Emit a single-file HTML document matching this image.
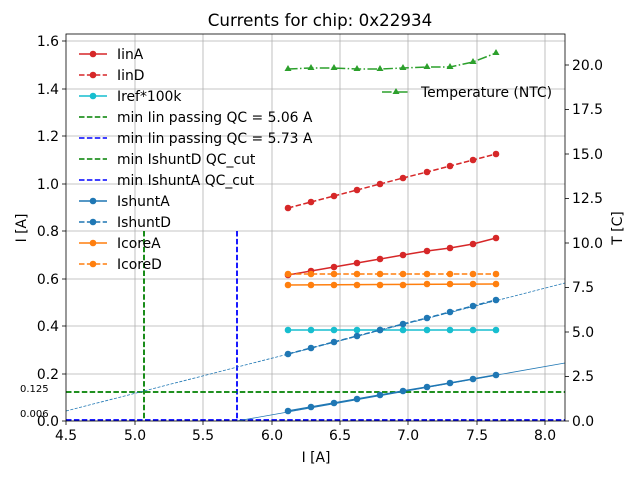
<!DOCTYPE html>
<html><head><meta charset="utf-8"><style>body{margin:0;background:#fff}svg{display:block;font-family:"DejaVu Sans","Liberation Sans",sans-serif}</style></head><body>
<svg width="640" height="480" viewBox="0 0 640 480" xmlns="http://www.w3.org/2000/svg">
<rect width="640" height="480" fill="#fff"/>
<g stroke="#b0b0b0" stroke-width="0.8">
<line x1="135" y1="34" x2="135" y2="421"/><line x1="203" y1="34" x2="203" y2="421"/><line x1="272" y1="34" x2="272" y2="421"/><line x1="340" y1="34" x2="340" y2="421"/><line x1="408" y1="34" x2="408" y2="421"/><line x1="477" y1="34" x2="477" y2="421"/><line x1="545" y1="34" x2="545" y2="421"/>
<line x1="66" y1="374" x2="565" y2="374"/><line x1="66" y1="326" x2="565" y2="326"/><line x1="66" y1="279" x2="565" y2="279"/><line x1="66" y1="231" x2="565" y2="231"/><line x1="66" y1="184" x2="565" y2="184"/><line x1="66" y1="136" x2="565" y2="136"/><line x1="66" y1="89" x2="565" y2="89"/><line x1="66" y1="41" x2="565" y2="41"/>
</g>
<g fill="none" stroke-width="1.8" stroke-dasharray="5.5,2.4">
<line x1="144" y1="231" x2="144" y2="421" stroke="#008000"/>
<line x1="237" y1="231" x2="237" y2="421" stroke="#0000ff"/>
<line x1="66" y1="392" x2="565" y2="392" stroke="#008000"/>
<line x1="66" y1="420" x2="565" y2="420" stroke="#0000ff"/>
</g>
<line x1="66" y1="411" x2="565" y2="283" stroke="#1f77b4" stroke-width="0.8" stroke-dasharray="3,1.5"/>
<line x1="237" y1="421" x2="565" y2="363" stroke="#1f77b4" stroke-width="0.8"/>
<g fill="none" stroke-width="1.5">
<polyline stroke="#d62728" points="288,275 311,271 334,267 357,263 380,259 403,255 427,251 450,248 473,244 496,238"/>
<polyline stroke="#d62728" stroke-dasharray="5.5,2.4" points="288,208 311,202 334,196 357,190 380,184 403,178 427,172 450,166 473,160 496,154"/>
<polyline stroke="#17becf" points="288,330 496,330"/>
<polyline stroke="#1f77b4" points="288,411 311,407 334,403 357,399 380,395 403,391 427,387 450,383 473,379 496,375"/>
<polyline stroke="#1f77b4" stroke-dasharray="5.5,2.4" points="288,354 311,348 334,342 357,336 380,330 403,324 427,318 450,312 473,306 496,300"/>
<polyline stroke="#ff7f0e" points="288,285 496,284"/>
<polyline stroke="#ff7f0e" stroke-dasharray="5.5,2.4" points="288,274 496,274"/>
<polyline stroke="#2ca02c" stroke-dasharray="9.6,2.4,1.5,2.4" points="288,69 311,68 334,68 357,69 380,69 403,68 427,67 450,67 473,62 496,53"/>
</g>
<g fill="#d62728"><circle cx="288" cy="275" r="3.3"/><circle cx="311" cy="271" r="3.3"/><circle cx="334" cy="267" r="3.3"/><circle cx="357" cy="263" r="3.3"/><circle cx="380" cy="259" r="3.3"/><circle cx="403" cy="255" r="3.3"/><circle cx="427" cy="251" r="3.3"/><circle cx="450" cy="248" r="3.3"/><circle cx="473" cy="244" r="3.3"/><circle cx="496" cy="238" r="3.3"/>
<circle cx="288" cy="208" r="3.3"/><circle cx="311" cy="202" r="3.3"/><circle cx="334" cy="196" r="3.3"/><circle cx="357" cy="190" r="3.3"/><circle cx="380" cy="184" r="3.3"/><circle cx="403" cy="178" r="3.3"/><circle cx="427" cy="172" r="3.3"/><circle cx="450" cy="166" r="3.3"/><circle cx="473" cy="160" r="3.3"/><circle cx="496" cy="154" r="3.3"/></g>
<g fill="#17becf"><circle cx="288" cy="330" r="3.3"/><circle cx="311" cy="330" r="3.3"/><circle cx="334" cy="330" r="3.3"/><circle cx="357" cy="330" r="3.3"/><circle cx="380" cy="330" r="3.3"/><circle cx="403" cy="330" r="3.3"/><circle cx="427" cy="330" r="3.3"/><circle cx="450" cy="330" r="3.3"/><circle cx="473" cy="330" r="3.3"/><circle cx="496" cy="330" r="3.3"/></g>
<g fill="#1f77b4"><circle cx="288" cy="411" r="3.3"/><circle cx="311" cy="407" r="3.3"/><circle cx="334" cy="403" r="3.3"/><circle cx="357" cy="399" r="3.3"/><circle cx="380" cy="395" r="3.3"/><circle cx="403" cy="391" r="3.3"/><circle cx="427" cy="387" r="3.3"/><circle cx="450" cy="383" r="3.3"/><circle cx="473" cy="379" r="3.3"/><circle cx="496" cy="375" r="3.3"/>
<circle cx="288" cy="354" r="3.3"/><circle cx="311" cy="348" r="3.3"/><circle cx="334" cy="342" r="3.3"/><circle cx="357" cy="336" r="3.3"/><circle cx="380" cy="330" r="3.3"/><circle cx="403" cy="324" r="3.3"/><circle cx="427" cy="318" r="3.3"/><circle cx="450" cy="312" r="3.3"/><circle cx="473" cy="306" r="3.3"/><circle cx="496" cy="300" r="3.3"/></g>
<g fill="#ff7f0e"><circle cx="288" cy="285" r="3.3"/><circle cx="311" cy="285" r="3.3"/><circle cx="334" cy="285" r="3.3"/><circle cx="357" cy="285" r="3.3"/><circle cx="380" cy="285" r="3.3"/><circle cx="403" cy="285" r="3.3"/><circle cx="427" cy="284" r="3.3"/><circle cx="450" cy="284" r="3.3"/><circle cx="473" cy="284" r="3.3"/><circle cx="496" cy="284" r="3.3"/>
<circle cx="288" cy="274" r="3.3"/><circle cx="311" cy="274" r="3.3"/><circle cx="334" cy="274" r="3.3"/><circle cx="357" cy="274" r="3.3"/><circle cx="380" cy="274" r="3.3"/><circle cx="403" cy="274" r="3.3"/><circle cx="427" cy="274" r="3.3"/><circle cx="450" cy="274" r="3.3"/><circle cx="473" cy="274" r="3.3"/><circle cx="496" cy="274" r="3.3"/></g>
<g fill="#2ca02c"><path d="M288,65l3.5,6h-7z"/><path d="M311,64l3.5,6h-7z"/><path d="M334,64l3.5,6h-7z"/><path d="M357,65l3.5,6h-7z"/><path d="M380,65l3.5,6h-7z"/><path d="M403,64l3.5,6h-7z"/><path d="M427,63l3.5,6h-7z"/><path d="M450,63l3.5,6h-7z"/><path d="M473,58l3.5,6h-7z"/><path d="M496,49l3.5,6h-7z"/></g>
<rect x="66" y="34" width="499" height="387" fill="none" stroke="#000" stroke-width="0.8"/>
<g stroke="#000" stroke-width="0.8">
<line x1="66" y1="421" x2="66" y2="425"/><line x1="135" y1="421" x2="135" y2="425"/><line x1="203" y1="421" x2="203" y2="425"/><line x1="272" y1="421" x2="272" y2="425"/><line x1="340" y1="421" x2="340" y2="425"/><line x1="408" y1="421" x2="408" y2="425"/><line x1="477" y1="421" x2="477" y2="425"/><line x1="545" y1="421" x2="545" y2="425"/>
<line x1="62" y1="421" x2="66" y2="421"/><line x1="62" y1="374" x2="66" y2="374"/><line x1="62" y1="326" x2="66" y2="326"/><line x1="62" y1="279" x2="66" y2="279"/><line x1="62" y1="231" x2="66" y2="231"/><line x1="62" y1="184" x2="66" y2="184"/><line x1="62" y1="136" x2="66" y2="136"/><line x1="62" y1="89" x2="66" y2="89"/><line x1="62" y1="41" x2="66" y2="41"/>
<line x1="565" y1="421" x2="569" y2="421"/><line x1="565" y1="376.5" x2="569" y2="376.5"/><line x1="565" y1="332" x2="569" y2="332"/><line x1="565" y1="287.5" x2="569" y2="287.5"/><line x1="565" y1="243" x2="569" y2="243"/><line x1="565" y1="198.5" x2="569" y2="198.5"/><line x1="565" y1="154" x2="569" y2="154"/><line x1="565" y1="109.5" x2="569" y2="109.5"/><line x1="565" y1="65" x2="569" y2="65"/>
</g>
<g font-size="13.9" fill="#000">
<g text-anchor="middle"><text x="66" y="440">4.5</text><text x="135" y="440">5.0</text><text x="203" y="440">5.5</text><text x="272" y="440">6.0</text><text x="340" y="440">6.5</text><text x="408" y="440">7.0</text><text x="477" y="440">7.5</text><text x="545" y="440">8.0</text>
<text x="316" y="462">I [A]</text><text x="320" y="26" font-size="16.7">Currents for chip: 0x22934</text></g>
<g text-anchor="end"><text x="59" y="426">0.0</text><text x="59" y="379">0.2</text><text x="59" y="331">0.4</text><text x="59" y="284">0.6</text><text x="59" y="236">0.8</text><text x="59" y="189">1.0</text><text x="59" y="141">1.2</text><text x="59" y="94">1.4</text><text x="59" y="46">1.6</text></g>
<g><text x="572" y="426">0.0</text><text x="572" y="381">2.5</text><text x="572" y="337">5.0</text><text x="572" y="292">7.5</text><text x="572" y="248">10.0</text><text x="572" y="203">12.5</text><text x="572" y="159">15.0</text><text x="572" y="114">17.5</text><text x="572" y="70">20.0</text></g>
<text transform="translate(26,228) rotate(-90)" text-anchor="middle">I [A]</text>
<text transform="translate(622,228) rotate(-90)" text-anchor="middle">T [C]</text>
<text x="20" y="392" font-size="10">0.125</text><text x="20" y="417" font-size="10">0.006</text>
</g>
<g font-size="13.9" fill="#000">
<g stroke-width="1.5" fill="none">
<line x1="79" y1="54" x2="107" y2="54" stroke="#d62728"/>
<line x1="79" y1="75" x2="107" y2="75" stroke="#d62728" stroke-dasharray="5.5,2.4"/>
<line x1="79" y1="96" x2="107" y2="96" stroke="#17becf"/>
<line x1="79" y1="117" x2="107" y2="117" stroke="#008000" stroke-dasharray="5.5,2.4"/>
<line x1="79" y1="138" x2="107" y2="138" stroke="#0000ff" stroke-dasharray="5.5,2.4"/>
<line x1="79" y1="159" x2="107" y2="159" stroke="#008000" stroke-dasharray="5.5,2.4"/>
<line x1="79" y1="180" x2="107" y2="180" stroke="#0000ff" stroke-dasharray="5.5,2.4"/>
<line x1="79" y1="201" x2="107" y2="201" stroke="#1f77b4"/>
<line x1="79" y1="222" x2="107" y2="222" stroke="#1f77b4" stroke-dasharray="5.5,2.4"/>
<line x1="79" y1="243" x2="107" y2="243" stroke="#ff7f0e"/>
<line x1="79" y1="264" x2="107" y2="264" stroke="#ff7f0e" stroke-dasharray="5.5,2.4"/>
<line x1="382" y1="92" x2="410" y2="92" stroke="#2ca02c" stroke-dasharray="9.6,2.4,1.5,2.4"/>
</g>
<circle cx="93" cy="54" r="3.3" fill="#d62728"/><circle cx="93" cy="75" r="3.3" fill="#d62728"/><circle cx="93" cy="96" r="3.3" fill="#17becf"/><circle cx="93" cy="201" r="3.3" fill="#1f77b4"/><circle cx="93" cy="222" r="3.3" fill="#1f77b4"/><circle cx="93" cy="243" r="3.3" fill="#ff7f0e"/><circle cx="93" cy="264" r="3.3" fill="#ff7f0e"/>
<path d="M396,88l3.5,6h-7z" fill="#2ca02c"/>
<text x="117" y="59">IinA</text><text x="117" y="80">IinD</text><text x="117" y="101">Iref*100k</text><text x="117" y="122">min Iin passing QC = 5.06 A</text><text x="117" y="143">min Iin passing QC = 5.73 A</text><text x="117" y="164">min IshuntD QC_cut</text><text x="117" y="185">min IshuntA QC_cut</text><text x="117" y="206">IshuntA</text><text x="117" y="227">IshuntD</text><text x="117" y="248">IcoreA</text><text x="117" y="269">IcoreD</text>
<text x="421" y="97">Temperature (NTC)</text>
</g>
</svg>
</body></html>
